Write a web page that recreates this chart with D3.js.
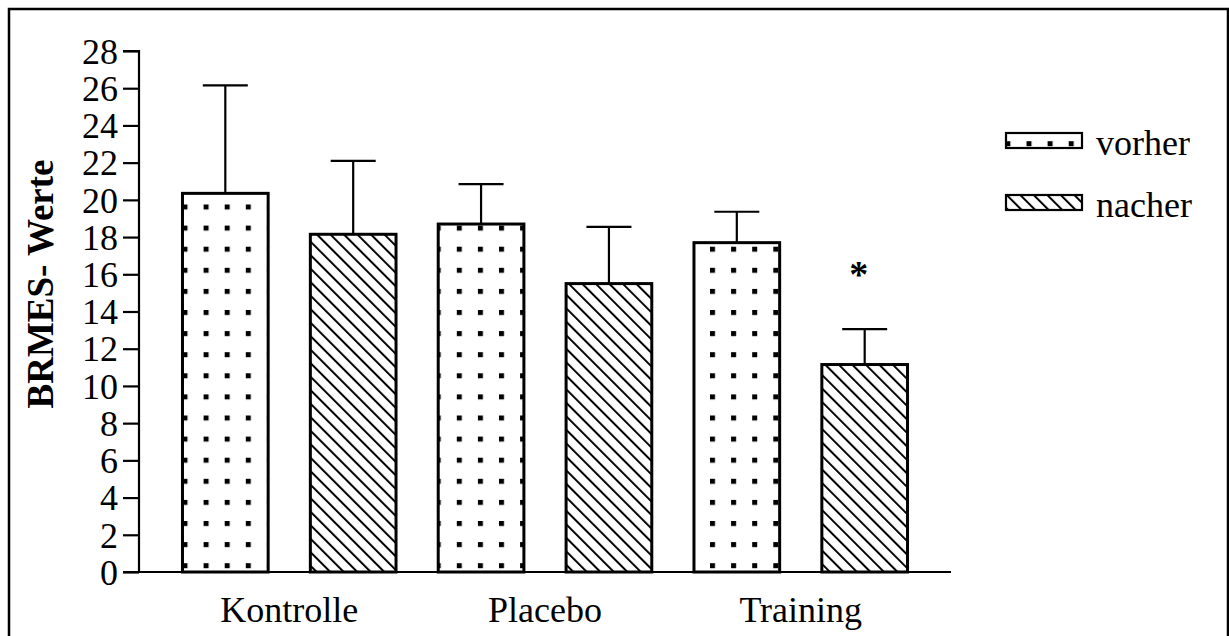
<!DOCTYPE html>
<html>
<head>
<meta charset="utf-8">
<script src="https://cdn.jsdelivr.net/npm/d3@7"></script>
<style>
  html, body { margin: 0; padding: 0; background: #fff; }
  svg { display: block; font-family: "Liberation Serif", "Times New Roman", serif; }
</style>
</head>
<body>
<div id="chart"></div>
<script>
// data
const categories = ['Kontrolle', 'Placebo', 'Training'];
const series = ['vorher', 'nacher'];
const vorherMeans = [20.35, 18.7, 17.7];
const vorherErrors = [5.8, 2.15, 1.66];
const nacherMeans = [18.15, 15.5, 11.15];
const nacherErrors = [3.95, 3.05, 1.9];
const nacherMarks = ['', '', '*'];
const yTicks = d3.range(0, 29, 2);

const width = 1229, height = 636;
const svg = d3.select('#chart').append('svg')
  .attr('width', width)
  .attr('height', height);

const defs = svg.append('defs');

// dotted fill (vorher), laid out in page coordinates
const dots = defs.append('pattern')
  .attr('id', 'dots')
  .attr('patternUnits', 'userSpaceOnUse')
  .attr('x', 182.5).attr('y', 204.5)
  .attr('width', 21.1).attr('height', 21.1);
dots.append('rect').attr('width', 21.1).attr('height', 21.1).attr('fill', '#fff');
dots.append('rect').attr('width', 5).attr('height', 5).attr('fill', '#000');

// hatched fill (nacher)
const hatch = defs.append('pattern')
  .attr('id', 'hatch')
  .attr('patternUnits', 'userSpaceOnUse')
  .attr('width', 9.55).attr('height', 9.55)
  .attr('patternTransform', 'rotate(-45)');
hatch.append('rect').attr('width', 9.55).attr('height', 9.55).attr('fill', '#fff');
hatch.append('line')
  .attr('x1', 1).attr('y1', -1).attr('x2', 1).attr('y2', 11)
  .attr('stroke', '#000').attr('stroke-width', 2);

const fills = { vorher: 'url(#dots)', nacher: 'url(#hatch)' };

// outer frame
svg.append('rect')
  .attr('x', 9).attr('y', 9)
  .attr('width', 1219).attr('height', 640)
  .attr('fill', 'none')
  .attr('stroke', '#000')
  .attr('stroke-width', 2.5);

const rows = [];
categories.forEach((c, i) => {
  rows.push({ cat: c, ser: 'vorher', mean: vorherMeans[i], err: vorherErrors[i], mark: '' });
  rows.push({ cat: c, ser: 'nacher', mean: nacherMeans[i], err: nacherErrors[i], mark: nacherMarks[i] });
});
const key = d => d.cat + '|' + d.ser;

const x = d3.scaleBand()
  .domain(rows.map(key))
  .range([139, 951])
  .paddingInner(0.33)
  .paddingOuter(0.34);

const y = d3.scaleLinear().domain([0, 28]).range([572, 51]);

// y axis
const yAxis = svg.append('g')
  .attr('transform', 'translate(139,0)')
  .call(d3.axisLeft(y).tickValues(yTicks).tickSize(16).tickPadding(5).tickFormat(d3.format('d')));
yAxis.select('.domain').attr('stroke-width', 2.2).attr('d', 'M-16,' + y(28) + 'H0V' + y(0));
yAxis.selectAll('.tick line').attr('stroke-width', 2.2);
yAxis.selectAll('.tick text')
  .attr('font-size', 36)
  .attr('font-family', '"Liberation Serif", "Times New Roman", serif')
  .attr('fill', '#000')
  .attr('dy', '0.34em');

// x axis baseline
svg.append('line')
  .attr('x1', 123).attr('x2', 951)
  .attr('y1', y(0)).attr('y2', y(0))
  .attr('stroke', '#000').attr('stroke-width', 2.2);

// y label
svg.append('text')
  .attr('transform', `translate(53,284) rotate(-90)`)
  .attr('text-anchor', 'middle')
  .attr('font-size', 37)
  .attr('font-weight', 'bold')
  .text('BRMES- Werte');

// error bars
const eb = svg.append('g').selectAll('g').data(rows).enter().append('g');
eb.append('line')
  .attr('x1', d => x(key(d)) + x.bandwidth() / 2)
  .attr('x2', d => x(key(d)) + x.bandwidth() / 2)
  .attr('y1', d => y(d.mean))
  .attr('y2', d => y(d.mean + d.err))
  .attr('stroke', '#000').attr('stroke-width', 2.2);
eb.append('line')
  .attr('x1', d => x(key(d)) + x.bandwidth() / 2 - 22.5)
  .attr('x2', d => x(key(d)) + x.bandwidth() / 2 + 22.5)
  .attr('y1', d => y(d.mean + d.err))
  .attr('y2', d => y(d.mean + d.err))
  .attr('stroke', '#000').attr('stroke-width', 2.2);

// bars
svg.append('g').selectAll('rect').data(rows).enter().append('rect')
  .attr('x', d => x(key(d)))
  .attr('y', d => y(d.mean))
  .attr('width', x.bandwidth())
  .attr('height', d => y(0) - y(d.mean))
  .attr('fill', d => fills[d.ser])
  .attr('stroke', '#000')
  .attr('stroke-width', 3);

// significance marks
svg.append('g').selectAll('text').data(rows.filter(d => d.mark)).enter().append('text')
  .attr('x', d => x(key(d)) + x.bandwidth() / 2 - 6)
  .attr('y', d => y(d.mean + d.err) - 42)
  .attr('text-anchor', 'middle')
  .attr('font-size', 38)
  .attr('font-weight', 'bold')
  .text(d => d.mark);

// category labels
svg.append('g').selectAll('text').data(categories).enter().append('text')
  .attr('x', c => (x(c + '|vorher') + x(c + '|nacher') + x.bandwidth()) / 2)
  .attr('y', 622)
  .attr('text-anchor', 'middle')
  .attr('font-size', 36)
  .text(c => c);

// legend (not in a translated group, so the page-aligned dot pattern lines up)
const legend = svg.append('g');
legend.selectAll('rect').data(series).enter().append('rect')
  .attr('x', 1006)
  .attr('y', (d, i) => 133 + i * 62)
  .attr('width', 76).attr('height', 15)
  .attr('fill', d => fills[d])
  .attr('stroke', '#000').attr('stroke-width', 2.2);
legend.selectAll('text').data(series).enter().append('text')
  .attr('x', 1096)
  .attr('y', (d, i) => 155 + i * 62)
  .attr('font-size', 36)
  .text(d => d);
</script>
</body>
</html>
